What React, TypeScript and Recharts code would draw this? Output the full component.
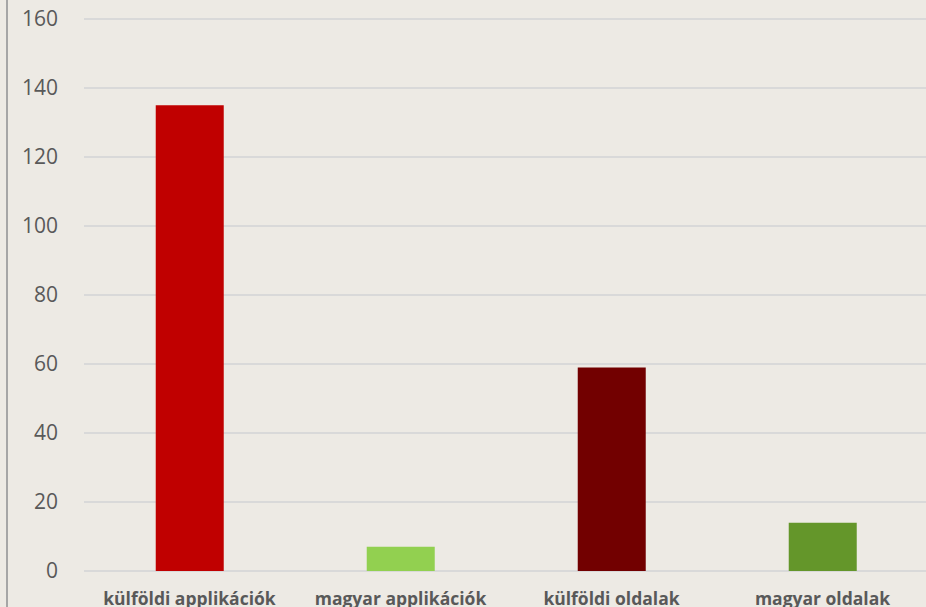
import React from "react";
import { BarChart, Bar, XAxis, YAxis, CartesianGrid, Cell } from "recharts";

const categories = ["külföldi applikációk", "magyar applikációk", "külföldi oldalak", "magyar oldalak"];
const values = [135, 7, 59, 14];
const colors = ["#C00000", "#92D050", "#720000", "#64962A"];
const yTicks = [0, 20, 40, 60, 80, 100, 120, 140, 160];

const data = categories.map((name, i) => ({ name, value: values[i] }));

export default function App() {
  return (
    <div
      style={{
        position: "absolute",
        left: 0,
        top: 0,
        width: 926,
        height: 607,
        overflow: "hidden",
        background: "#EDEAE4",
        fontFamily: "'Open Sans', 'Noto Sans', sans-serif",
      }}
    >
      <div style={{ position: "absolute", left: 6, top: 0, width: 2, height: 607, background: "#A6A6A6" }} />
      <div style={{ position: "absolute", left: 0, top: 0 }}>
        <BarChart
          width={928}
          height={607}
          data={data}
          margin={{ top: 19, right: 0, bottom: 0, left: 0 }}
          barCategoryGap="34%"
        >
          <CartesianGrid vertical={false} stroke="#D9D9D9" strokeWidth={2} />
          <XAxis
            dataKey="name"
            axisLine={false}
            tickLine={false}
            height={36}
            tickMargin={15.5}
            interval={0}
            tick={{ fill: "#595959", fontSize: 17.5, fontWeight: 700, fontFamily: "'Open Sans', sans-serif" }}
          />
          <YAxis
            width={84}
            domain={[0, 160]}
            ticks={yTicks}
            axisLine={false}
            tickLine={false}
            tickMargin={20}
            tick={{ fill: "#595959", fontSize: 21, fontFamily: "'Open Sans', sans-serif" }}
          />
          <Bar dataKey="value" isAnimationActive={false}>
            {data.map((d, i) => (
              <Cell key={d.name} fill={colors[i]} />
            ))}
          </Bar>
        </BarChart>
      </div>
    </div>
  );
}
